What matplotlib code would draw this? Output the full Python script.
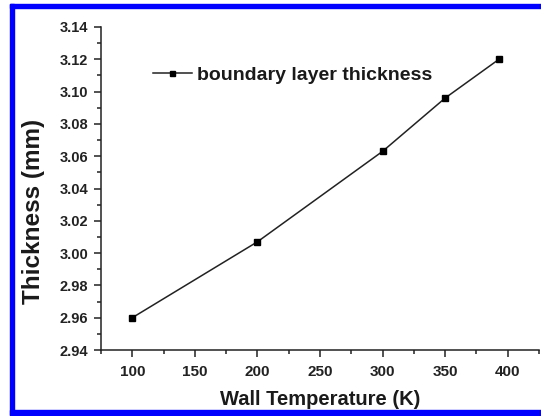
import numpy as np
import matplotlib.pyplot as plt
from matplotlib.patches import Rectangle
from matplotlib.ticker import MultipleLocator

plt.rcParams['font.family'] = ['Liberation Sans', 'DejaVu Sans']
plt.rcParams['font.weight'] = 'bold'

# datos
temperatura = [100, 200, 300, 350, 393]
espesor = [2.960, 3.007, 3.063, 3.096, 3.120]
etiqueta = 'boundary layer thickness'

fig = plt.figure(figsize=(5.41, 4.16), dpi=100)
ax = fig.add_axes([101/541, 1-350/416, 438/541, 323/416])

ax.plot(temperatura, espesor, color='#222222', lw=1.1, marker='s',
        markersize=4.5, markerfacecolor='black', markeredgecolor='black',
        label=etiqueta)

ax.set_xlim(75, 425)
ax.set_ylim(2.94, 3.14)
ax.xaxis.set_major_locator(MultipleLocator(50))
ax.xaxis.set_minor_locator(MultipleLocator(25))
ax.yaxis.set_major_locator(MultipleLocator(0.02))
ax.yaxis.set_minor_locator(MultipleLocator(0.01))
ax.yaxis.set_major_formatter(plt.FormatStrFormatter('%.2f'))

for s in ['top', 'right']:
    ax.spines[s].set_visible(False)
for s in ['left', 'bottom']:
    ax.spines[s].set_linewidth(1.1)
    ax.spines[s].set_color('#222222')

ax.tick_params(which='major', direction='out', length=5, width=1.1,
               labelsize=10.5, colors='#222222')
ax.tick_params(which='minor', direction='out', length=3, width=1.1,
               colors='#222222')
ax.tick_params(axis='x', which='major', pad=6, labelsize=11)
ax.tick_params(axis='y', which='major', pad=4)

ax.set_xlabel('Wall Temperature (K)', fontsize=14.5, fontweight='bold',
              color='#1a1a1a')
ax.set_ylabel('Thickness (mm)', fontsize=17.5, fontweight='bold',
              color='#1a1a1a')
ax.xaxis.set_label_coords(0.5, -0.125)
ax.yaxis.set_label_coords(-0.128, 0.43)

leg = ax.legend(loc='center left', bbox_to_anchor=(0.118, 0.851),
                frameon=False, fontsize=14, handlelength=2.0,
                handletextpad=0.3, borderpad=0, borderaxespad=0,
                markerscale=0.8)
for t in leg.get_texts():
    t.set_fontweight('bold')
    t.set_color('#1a1a1a')

# marco azul alrededor de la figura (izquierda, arriba, abajo)
fig.patches.append(Rectangle((10/541, 1-415/416), 4/541, 411/416,
                             transform=fig.transFigure, color='#0000ff'))
fig.patches.append(Rectangle((10/541, 1-8/416), 531/541, 4/416,
                             transform=fig.transFigure, color='#0000ff'))
fig.patches.append(Rectangle((10/541, 1-415/416), 531/541, 5/416,
                             transform=fig.transFigure, color='#0000ff'))

fig.savefig('out.png', dpi=100)
